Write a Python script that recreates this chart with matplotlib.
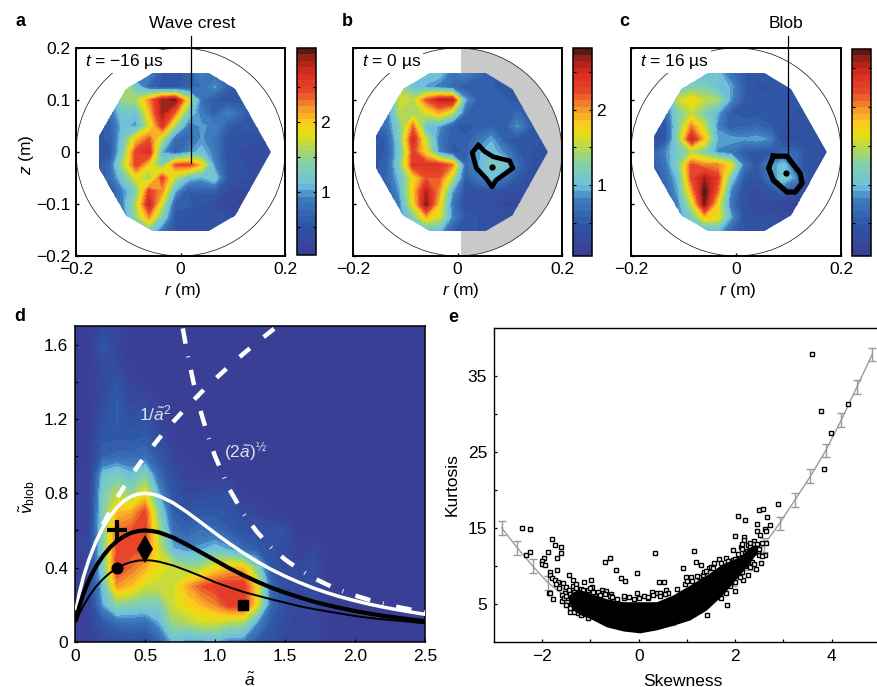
import numpy as np
import matplotlib
matplotlib.use("Agg")
import matplotlib.pyplot as plt
from matplotlib.cm import ScalarMappable
from matplotlib.colors import LinearSegmentedColormap, BoundaryNorm
from matplotlib.patches import Circle, Polygon, Rectangle
from matplotlib.ticker import FixedLocator, NullFormatter

plt.rcParams['font.family'] = ['Liberation Sans', 'DejaVu Sans']
plt.rcParams['mathtext.fontset'] = 'custom'
plt.rcParams['mathtext.rm'] = 'Liberation Sans'
plt.rcParams['mathtext.it'] = 'Liberation Sans:italic'
plt.rcParams['mathtext.bf'] = 'Liberation Sans:bold'
plt.rcParams['font.size'] = 12.5

W, H = 877, 687

# ---------------- data ----------------
r_grid = [-0.16, -0.135, -0.11, -0.085, -0.06, -0.035, -0.01, 0.015, 0.04, 0.065, 0.09, 0.115, 0.14, 0.165, 0.19]
z_grid = [0.15, 0.125, 0.10, 0.075, 0.05, 0.025, 0.0, -0.025, -0.05, -0.075, -0.10, -0.125, -0.15]

field_a = [
    [.5, .5, .6, .7, .9, .55, .5, .6, .9, .75, .55, .5, .5, .5, .5],
    [.6, .8, 1.7, 1.2, .65, .5, .5, .6, .75, .95, .6, .5, .5, .5, .5],
    [.6, .9, 1.5, 1.6, 2.2, 2.9, 3.0, 1.8, .75, .55, .5, .5, .5, .5, .5],
    [.6, .75, 1.2, 1.1, 2.0, 2.9, 2.3, 1.2, .85, .6, .9, .7, .5, .5, .5],
    [.5, .6, 1.1, .95, 1.7, 2.6, 1.5, .8, .95, .9, .6, .5, .5, .45, .45],
    [.5, .6, 1.2, 2.0, 2.4, 1.6, .7, .7, .95, .8, .45, .45, .4, .4, .4],
    [.45, .5, 1.3, 2.5, 2.7, 1.0, .6, .9, 1.1, .85, .4, .35, .3, .3, .3],
    [.5, .7, 1.6, 2.5, 1.9, 1.3, 2.4, 2.5, 2.0, .9, .5, .4, .35, .35, .35],
    [.5, .7, 1.2, 1.8, 1.5, 2.5, 1.6, 1.1, 1.0, 1.2, .5, .4, .35, .35, .35],
    [.4, .5, .9, 1.3, 2.5, 2.2, 1.0, .55, .6, .6, .3, .25, .3, .3, .3],
    [.4, .5, .9, 1.6, 2.8, 1.7, .6, .6, .45, .35, .2, .2, .3, .3, .3],
    [.4, .5, .8, 1.5, 2.2, 1.3, .5, .45, .4, .4, .4, .35, .3, .3, .3],
    [.4, .5, .8, 1.2, 1.3, .8, .45, .45, .4, .4, .4, .35, .3, .3, .3],
]
field_b = [
    [.5, .6, .9, 1.0, 1.0, 1.0, .7, .8, .6, .5, .45, .45, .4, .4, .4],
    [.5, .6, 1.4, 1.0, .9, .75, .6, .5, .5, .5, .45, .45, .4, .4, .4],
    [.5, .6, 1.6, 1.5, 2.2, 2.6, 2.6, .9, .5, .5, .5, .45, .45, .4, .4],
    [.5, .7, 1.5, 1.4, 1.6, 1.9, 1.5, .6, .5, .5, .5, .6, .5, .4, .4],
    [.5, .7, 1.2, 2.1, 1.0, .9, .5, .45, .5, .55, .5, .85, .5, .4, .4],
    [.45, .5, 1.2, 2.5, 1.5, .7, .5, .5, .7, .9, .5, .45, .45, .4, .4],
    [.45, .5, 1.1, 2.3, 1.7, .8, .45, .5, .9, 1.0, .8, .5, .4, .35, .35],
    [.45, .55, 1.2, 2.4, 2.4, 2.4, 2.1, .6, .9, 1.15, 1.1, .6, .4, .35, .35],
    [.45, .6, 1.0, 1.7, 2.2, 2.2, 1.5, .5, .7, 1.0, .7, .45, .35, .35, .35],
    [.4, .5, .9, 1.8, 2.6, 2.0, .9, .4, .4, .4, .35, .3, .3, .3, .3],
    [.4, .5, .8, 1.7, 2.75, 1.8, .7, .35, .35, .35, .2, .2, .3, .3, .3],
    [.4, .5, .8, 1.2, 1.9, 1.6, .8, .45, .4, .4, .35, .35, .3, .3, .3],
    [.4, .5, .8, 1.1, 1.0, 1.0, .5, .45, .4, .4, .35, .35, .3, .3, .3],
]
field_c = [
    [.5, .6, .7, .8, .9, 1.0, .7, .5, .45, .45, .45, .4, .4, .4, .4],
    [.5, .6, 1.1, 1.2, 1.2, 1.0, .9, .5, .35, .4, .45, .45, .4, .4, .4],
    [.5, .7, 1.5, 1.75, 1.5, 1.4, .85, .5, .45, .45, .45, .45, .45, .4, .4],
    [.5, .6, 1.2, 1.5, 1.2, .9, .5, .45, .45, .45, .45, .4, .4, .4, .4],
    [.4, .45, 1.2, 2.0, 1.5, .8, .5, .55, .6, .5, .4, .4, .4, .4, .4],
    [.3, .4, 1.3, 2.5, 1.8, .9, .9, .85, .9, .8, .3, .3, .4, .4, .4],
    [.5, .8, 1.1, 1.4, 1.2, .8, .7, .5, .45, .45, .6, .6, .35, .35, .35],
    [.5, .7, 1.2, 2.2, 2.0, 2.0, 1.7, .7, .45, .8, 1.0, .6, .35, .35, .35],
    [.5, .6, 1.0, 2.2, 2.6, 2.3, 1.1, .5, .4, .7, 1.1, .8, .35, .35, .35],
    [.5, .6, .9, 1.9, 2.8, 2.1, .8, .35, .3, .4, .6, .4, .3, .3, .3],
    [.4, .5, .8, 1.5, 2.7, 1.7, .7, .35, .25, .3, .15, .15, .3, .3, .3],
    [.4, .5, .8, 1.1, 1.8, 1.7, .9, .4, .3, .35, .3, .3, .3, .3, .3],
    [.4, .5, .8, 1.0, .9, 1.0, .6, .4, .35, .35, .35, .3, .3, .3, .3],
]
cbar_a_lim = [0.1, 3.06]
cbar_b_lim = [0.06, 2.82]
cbar_c_lim = [0.08, 2.75]

octagon_r = [-0.053, 0.054, 0.105, 0.173, 0.105, 0.054, -0.053, -0.104, -0.156, -0.156, -0.104]
octagon_z = [0.152, 0.152, 0.121, 0.0, -0.122, -0.152, -0.152, -0.122, -0.031, 0.031, 0.121]

blob_b_r = [0.040, 0.028, 0.036, 0.055, 0.066, 0.074, 0.106, 0.100, 0.068, 0.052, 0.040]
blob_b_z = [0.013, -0.001, -0.031, -0.051, -0.067, -0.054, -0.031, -0.017, -0.009, 0.001, 0.013]
blob_b_point = [0.066, -0.028]
blob_c_r = [0.071, 0.097, 0.122, 0.126, 0.113, 0.097, 0.071, 0.062, 0.071]
blob_c_z = [-0.008, -0.008, -0.041, -0.060, -0.077, -0.077, -0.054, -0.031, -0.008]
blob_c_point = [0.096, -0.041]

a_grid = [0, .1, .2, .3, .4, .5, .6, .7, .8, .9, 1.0, 1.1, 1.2, 1.3, 1.4, 1.5, 1.6, 1.7, 1.8]
v_grid = [1.7, 1.6, 1.5, 1.4, 1.3, 1.2, 1.1, 1.0, .9, .8, .7, .6, .5, .4, .3, .2, .1, 0]
field_d = [
    [0, 0, .05, .05, 0, 0, 0, 0, 0, 0, 0, 0, 0, 0, 0, 0, 0, 0, 0],
    [0, 0, .13, .05, 0, 0, 0, 0, 0, 0, 0, 0, 0, 0, 0, 0, 0, 0, 0],
    [0, 0, .08, .06, 0, 0, 0, 0, 0, 0, 0, 0, 0, 0, 0, 0, 0, 0, 0],
    [0, 0, .06, .12, .03, 0, 0, 0, 0, 0, 0, 0, 0, 0, 0, 0, 0, 0, 0],
    [0, 0, .07, .16, .05, .06, 0, 0, 0, 0, 0, 0, 0, 0, 0, 0, 0, 0, 0],
    [0, 0, .10, .16, .10, .12, .03, 0, 0, 0, 0, 0, 0, 0, 0, 0, 0, 0, 0],
    [0, 0, .14, .15, .14, .16, .08, 0, 0, 0, 0, 0, 0, 0, 0, 0, 0, 0, 0],
    [0, 0, .18, .20, .20, .22, .14, .04, 0, 0, 0, 0, 0, 0, 0, 0, 0, 0, 0],
    [0, .01, .35, .40, .33, .42, .20, .08, .02, 0, 0, 0, 0, 0, 0, 0, 0, 0, 0],
    [0, .02, .40, .52, .45, .60, .30, .12, .06, .07, .08, .10, 0, 0, 0, 0, 0, 0, 0],
    [0, .03, .42, .65, .68, .80, .42, .16, .12, .14, .14, .12, .06, .05, 0, 0, 0, 0, 0],
    [0, .05, .42, .75, .78, .82, .50, .22, .18, .22, .20, .16, .12, .10, .10, .10, 0, 0, 0],
    [0, .06, .42, .80, .80, .78, .55, .32, .28, .30, .35, .30, .20, .16, .10, .07, 0, .05, 0],
    [0, .06, .40, .82, .75, .68, .58, .55, .48, .50, .60, .66, .66, .42, .14, .08, .06, .10, 0],
    [0, .05, .35, .70, .65, .55, .55, .55, .68, .78, .82, .84, .84, .62, .20, .10, .05, .08, .02],
    [0, .04, .30, .45, .42, .40, .40, .55, .62, .66, .72, .82, .84, .60, .20, .10, .06, .08, 0],
    [0, .03, .14, .20, .22, .20, .30, .48, .50, .55, .55, .50, .48, .28, .14, .07, .04, .05, 0],
    [0, .01, .06, .08, .10, .10, .18, .32, .28, .28, .30, .25, .25, .14, .10, .05, .03, .04, 0],
]

curve_a = [.01, .03, .06, .1, .15, .2, .25, .3, .35, .4, .45, .5, .55, .6, .7, .8, .9, 1.0, 1.1, 1.2,
           1.3, 1.4, 1.5, 1.6, 1.7, 1.8, 1.9, 2.0, 2.1, 2.2, 2.3, 2.4, 2.5]
curve_white = [.18, .26, .35, .445, .541, .617, .677, .724, .759, .782, .796, .8, .796, .786, .749, .699,
               .643, .586, .531, .48, .433, .391, .354, .321, .291, .265, .242, .222, .204, .188, .174, .161, .149]
curve_thick = [.125, .19, .26, .334, .406, .463, .508, .543, .569, .587, .597, .6, .597, .59, .562, .524,
               .482, .44, .398, .36, .325, .293, .266, .241, .218, .199, .182, .167, .153, .141, .131, .121, .112]
curve_thin = [.11, .15, .195, .245, .298, .339, .372, .398, .417, .43, .438, .44, .438, .432, .412, .384,
              .354, .322, .295, .27, .25, .23, .212, .193, .178, .165, .152, .14, .13, .122, .115, .108, .10]
sqrt_a = [.2, .3, .4, .5, .6, .7, .8, .9, 1.0, 1.1, 1.2, 1.3, 1.43]
sqrt_v = [.632, .775, .894, 1.0, 1.095, 1.183, 1.265, 1.342, 1.414, 1.483, 1.549, 1.612, 1.69]
inv_a = [.77, .8, .85, .9, .95, 1.0, 1.1, 1.2, 1.3, 1.4, 1.5, 1.6, 1.7, 1.8, 1.9, 2.0, 2.1, 2.2, 2.3, 2.4, 2.5]
inv_v = [1.687, 1.5625, 1.384, 1.235, 1.108, 1.0, .826, .694, .592, .51, .444, .391, .346, .309, .277, .25,
         .227, .207, .189, .174, .16]
marker_plus = [0.3, 0.6]
marker_diamond = [0.5, 0.5]
marker_circle = [0.3, 0.4]
marker_square = [1.2, 0.2]

skew_pts = [-2.42, -2.25, -2.34, -2.25, -1.79, -1.74, -1.62, -1.61, -1.70, -1.88, -1.97, -2.01, -2.00, -1.94,
            -1.69, -1.84, -1.83, -1.79, -1.74, -1.67, -1.86, -1.83, -1.77, -1.43, -1.44, -1.36, -1.14, -.99,
            -.96, -.76, -.67, -.58, -.69, -.59, -.47, -.37, -.29, -.03, .34, .42, .52, .57, .27, .37, -.03,
            -.31, 1.15, 1.19, 1.30, .91, .99, 1.09, 1.42, 1.83, 1.99, 1.99, 1.96, 2.05, 2.2, 2.18, 2.45, 2.5,
            2.58, 2.66, 2.72, 2.88, 2.45, 2.52, 2.61, 2.64, 2.64, 2.61, 2.53, 2.43, 2.26, 2.17, 3.59, 3.77,
            4.33, 3.99, 3.85, 1.56, 1.66, 1.81, 1.45, 1.33, 2.12, 2.19, 2.26, 2.4, 2.37, 2.23, 2.09, 1.95,
            1.88, -1.57, -1.53, -1.39, -1.36, -1.22, -1.08, -.88,
            2.3, 2.45, 2.5, 2.35, 2.2, 2.05, 2.2, 2.1, 2.15, 2.3, 2.38, 2.48, 2.25,
            -1.6, -1.5, -1.45, -1.3, -1.25, -1.4, -1.3, -1.15, -1.1, -1.6, -1.48, -1.72, -1.65,
            -.9, -.75, -.6, -.45, .1, .2, .45, .6, .8, .95, 1.1, 1.25, 1.35, 1.5,
            -1.55, -1.5, -1.42, -1.35, -1.3, -1.2, -1.15, -1.05, -1.0, -.95, -.85, -.8, -.7, -.55, -1.5, -1.42,
            -1.35, -1.25, -1.2, -1.05, -.3, -.2, -.1, 0, .2, .3, .45, .55, 1.0, 1.2, 1.4, 1.55, 1.7, 1.85, 2.0,
            2.05, 2.15, 2.25, 2.3, 2.38, 2.42, 2.46, 2.55, 2.5, 2.55, 2.3, 2.4, 2.1, 2.15, 2.0, 1.9, 1.8, 1.7]
kurt_pts = [15.0, 14.9, 11.5, 11.9, 13.5, 12.7, 12.5, 11.7, 11.1, 11.8, 11.1, 10.7, 10.3, 10.1,
            9.5, 9.2, 8.8, 8.4, 8.2, 7.9, 6.5, 6.4, 5.6, 3.95, 8.8, 8.1, 7.9, 8.2,
            7.2, 6.9, 6.75, 6.3, 10.5, 11.0, 9.5, 8.4, 8.0, 9.1, 11.7, 7.85, 7.9, 6.85, 6.6, 6.5, 6.5,
            5.75, 12.0, 10.5, 10.1, 9.7, 8.5, 8.5, 3.6, 4.9, 6.75, 14.0, 12.05, 16.6, 16.0, 13.85, 15.5, 17.35,
            17.45, 16.5, 15.4, 18.1, 14.6, 14.05, 14.8, 14.6, 13.05, 11.45, 10.35, 9.55, 8.8, 8.15, 37.9, 30.35,
            31.35, 27.55, 22.7, 10.35, 10.9, 11.0, 9.7, 8.8, 12.55, 13.4, 12.75, 13.3, 11.65, 11.2, 11.2, 10.8,
            10.1, 7.7, 6.4, 5.3, 7.3, 6.4, 6.4, 6.4,
            12.2, 12.5, 11.5, 10.5, 10.0, 9.5, 11.8, 10.6, 12.9, 13.0, 12.9, 12.0, 10.9,
            6.2, 7.2, 6.8, 7.6, 6.0, 5.0, 4.5, 4.5, 3.7, 5.4, 5.8, 7.6, 7.1,
            6.0, 6.4, 6.0, 5.7, 6.0, 5.8, 6.5, 6.5, 7.0, 7.6, 8.0, 8.5, 9.2, 9.8,
            5.8, 6.0, 6.3, 6.6, 7.1, 7.0, 6.9, 6.8, 7.1, 6.6, 6.6, 6.2, 6.3, 5.9, 4.9, 4.5,
            3.9, 3.8, 3.5, 3.2, 6.0, 5.9, 5.7, 5.8, 5.9, 6.2, 6.0, 6.3, 8.0, 8.7, 9.3, 9.7, 10.4, 10.6, 10.9,
            11.6, 12.2, 12.0, 12.5, 12.3, 11.8, 12.9, 13.0, 12.2, 11.3, 9.9, 10.3, 8.6, 9.2, 7.9, 7.3, 6.5, 5.8]
dense_skew = [-1.45, -1.36, -1.22, -1.01, -.67, -.32, .02, .37, .71, 1.06, 1.4, 1.74, 2.09, 2.3, 2.45]
dense_low = [5.2, 4.2, 3.6, 3.1, 2.0, 1.45, 1.2, 1.6, 2.2, 2.9, 4.2, 6.2, 8.8, 10.4, 11.8]
dense_high = [6.2, 6.6, 6.9, 6.4, 5.7, 5.3, 5.3, 5.3, 6.2, 7.5, 8.8, 10.3, 11.2, 12.5, 12.8]

mean_skew = [-2.84, -2.52, -2.2, -1.88, -1.56, -1.24, -.92, -.6, -.28, .04, .36, .68, 1.0, 1.32, 1.64, 1.96,
             2.28, 2.6, 2.92, 3.24, 3.56, 3.88, 4.2, 4.52, 4.84]
mean_kurt = [15.0, 12.4, 10.0, 7.8, 6.2, 5.0, 4.0, 3.2, 2.8, 2.6, 2.7, 3.2, 4.1, 5.2, 6.6, 8.2,
             10.4, 12.8, 15.6, 18.7, 21.8, 25.2, 29.2, 33.5, 37.8]
mean_err = [.9] * 25

# ---------------- helpers ----------------
cmap = LinearSegmentedColormap.from_list('plasma_jet', [
    (0.0, '#3a3f96'), (0.137, '#2f55a5'), (0.27, '#3f7fbf'), (0.33, '#6fc0dc'),
    (0.43, '#80d0b0'), (0.525, '#b8d850'), (0.59, '#e6df10'), (0.645, '#fdc820'),
    (0.72, '#f4902a'), (0.80, '#e8452a'), (0.895, '#d82a20'), (0.96, '#9a2218'), (1.0, '#5a1a14')])


def px_axes(x0, y0, x1, y1):
    return fig.add_axes([x0 / W, 1 - y1 / H, (x1 - x0) / W, (y1 - y0) / H])


def px_text(x, y, s, **kw):
    kw.setdefault('ha', 'center')
    kw.setdefault('va', 'center')
    fig.text(x / W, 1 - y / H, s, **kw)


fig = plt.figure(figsize=(W / 100, H / 100), dpi=100, facecolor='white')


def field_panel(box, cbox, field, lim, tlabel, ylabels):
    ax = px_axes(*box)
    ax.set_xlim(-0.2, 0.2)
    ax.set_ylim(-0.2, 0.2)
    levels = np.linspace(lim[0], lim[1], 33)
    cf = ax.contourf(r_grid, z_grid, field, levels=levels, cmap=cmap, extend='both', zorder=2)
    cf.set_edgecolor('face')
    cf.set_linewidth(0.2)
    cf.set_clip_path(Polygon(np.column_stack([octagon_r, octagon_z]), closed=True, transform=ax.transData))
    ax.add_patch(Circle((0, 0), 0.2, fill=False, ec='#222222', lw=0.55, zorder=3))
    ax.text(-0.183, 0.174, tlabel, fontsize=12.5, ha='left', va='center', zorder=4,
            bbox=dict(fc='white', ec='none', pad=1.5))
    ax.set_xticks([-0.2, 0, 0.2])
    ax.set_xticklabels(['\u22120.2', '0', '0.2'])
    ax.set_yticks([-0.2, -0.1, 0, 0.1, 0.2])
    if ylabels:
        ax.set_yticklabels(['\u22120.2', '\u22120.1', '0', '0.1', '0.2'])
    else:
        ax.set_yticklabels([])
    ax.tick_params(direction='in', length=2.2, width=1.0, labelsize=12.5, pad=4)
    for s in ax.spines.values():
        s.set_linewidth(1.4)
        s.set_zorder(6)
    cax = px_axes(*cbox)
    sm = ScalarMappable(norm=BoundaryNorm(levels, cmap.N), cmap=cmap)
    cb = fig.colorbar(sm, cax=cax, ticks=[1, 2], spacing='proportional')
    cb.set_ticklabels(['1', '2'])
    cax.yaxis.set_minor_locator(FixedLocator([0.5, 1.5, 2.5]))
    cax.yaxis.set_minor_formatter(NullFormatter())
    cax.tick_params(axis='y', which='both', direction='in', length=2, width=0.8, left=True, right=True, labelsize=12.5, pad=3)
    cb.outline.set_linewidth(1.1)
    return ax


ax_a = field_panel((76, 48, 285, 256), (297, 48, 316, 255), field_a, cbar_a_lim, '$\\mathit{t}$ = \u221216 \u00b5s', True)
ax_b = field_panel((353, 48, 562, 256), (573, 48, 592, 256), field_b, cbar_b_lim, '$\\mathit{t}$ = 0 \u00b5s', False)
ax_c = field_panel((631, 48, 841, 256), (852, 49, 871, 256), field_c, cbar_c_lim, '$\\mathit{t}$ = 16 \u00b5s', False)

# grey half of the circle in b
rect = Rectangle((0.006, -0.2), 0.194, 0.4, fc='#c9c9c9', ec='none', zorder=1)
ax_b.add_patch(rect)
rect.set_clip_path(Circle((0, 0), 0.2, transform=ax_b.transData))

ax_b.plot(blob_b_r, blob_b_z, color='black', lw=3.4, zorder=5, solid_joinstyle='round')
ax_b.plot(*blob_b_point, 'o', color='black', ms=3.5, zorder=5)
ax_c.plot(blob_c_r, blob_c_z, color='black', lw=3.8, zorder=5)
ax_c.plot(*blob_c_point, 'o', color='black', ms=3.5, zorder=5)

ax_a.plot([0.021, 0.021], [0.223, -0.022], color='black', lw=0.9, clip_on=False, zorder=5)
ax_c.plot([0.099, 0.099], [0.223, -0.008], color='black', lw=0.9, clip_on=False, zorder=5)
px_text(192, 23, 'Wave crest', fontsize=12.5)
px_text(786, 23, 'Blob', fontsize=12.5)

px_text(183, 291, '$\\mathit{r}$ (m)', fontsize=12.5)
px_text(461, 291, '$\\mathit{r}$ (m)', fontsize=12.5)
px_text(738, 291, '$\\mathit{r}$ (m)', fontsize=12.5)
px_text(26, 155, '$\\mathit{z}$ (m)', fontsize=12.5, rotation=90)

for x, y, s in [(20, 22, 'a'), (347, 21, 'b'), (624, 22, 'c'), (20, 317, 'd'), (453, 318, 'e')]:
    px_text(x, y, s, fontsize=13, fontweight='bold')

# ---------------- d ----------------
ax_d = px_axes(75, 326, 425, 642)
ax_d.set_facecolor('#3a3f96')
ax_d.set_xlim(0, 2.5)
ax_d.set_ylim(0, 1.70)
ax_d.contourf(a_grid, v_grid, field_d, levels=np.linspace(0, 1, 33), cmap=cmap, extend='both', zorder=1)
ax_d.plot(sqrt_a, sqrt_v, color='white', lw=3.2, dashes=(3.0, 4.0), dash_capstyle='butt', zorder=3)
ax_d.plot(inv_a, inv_v, color='white', lw=3.2, dashes=(3.5, 2.9, 0.2, 2.9), dash_capstyle='butt', zorder=3)
ax_d.plot(curve_a, curve_white, color='white', lw=2.5, zorder=4)
ax_d.plot(curve_a, curve_thin, color='black', lw=1.4, zorder=4)
ax_d.plot(curve_a, curve_thick, color='black', lw=3.0, zorder=4)
ax_d.plot(*marker_plus, '+', color='black', ms=15, mew=3.0, zorder=5)
ax_d.plot(*marker_diamond, 'd', color='black', ms=14, mew=0, zorder=5)
ax_d.plot(*marker_circle, 'o', color='black', ms=7.6, zorder=5)
ax_d.plot(*marker_square, 's', color='black', ms=7.2, zorder=5)
ax_d.text(0.575, 1.23, '1/$\\mathit{\\tilde{a}}^{2}$', color='#dfe0ee', fontsize=12.5, ha='center', va='center', zorder=5)
ax_d.text(1.22, 1.02, '(2$\\mathit{\\tilde{a}}$)$^{\u00bd}$', color='#dfe0ee', fontsize=12.5, ha='center', va='center', zorder=5)
ax_d.set_xticks([0, 0.5, 1.0, 1.5, 2.0, 2.5])
ax_d.set_xticklabels(['0', '0.5', '1.0', '1.5', '2.0', '2.5'])
ax_d.set_yticks([0, 0.4, 0.8, 1.2, 1.6])
ax_d.set_yticklabels(['0', '0.4', '0.8', '1.2', '1.6'])
ax_d.set_yticks([0.2, 0.6, 1.0, 1.4], minor=True)
ax_d.tick_params(which='both', direction='in', length=2.2, width=0.9, labelsize=12.5, pad=5)
for s in ax_d.spines.values():
    s.set_linewidth(1.1)
px_text(250, 680, '$\\mathit{\\tilde{a}}$', fontsize=12.5)
px_text(27, 497, '$\\mathit{\\tilde{v}}_{\\mathrm{blob}}$', fontsize=12.5, rotation=90)

# ---------------- e ----------------
ax_e = px_axes(494, 328, 877, 642)
ax_e.set_xlim(-3.0, 4.94)
ax_e.set_ylim(0, 41.3)
ax_e.errorbar(mean_skew, mean_kurt, yerr=mean_err, color='#9a9a9a', lw=1.0, elinewidth=1.0,
              capsize=2.8, capthick=1.0, zorder=1)
ax_e.plot(skew_pts, kurt_pts, ls='none', marker='s', ms=3.4, mfc='white', mec='black', mew=1.0, zorder=2)
ax_e.fill_between(dense_skew, dense_low, dense_high, color='black', lw=0, zorder=3)
ax_e.set_xticks([-2, 0, 2, 4])
ax_e.set_xticklabels(['\u22122', '0', '2', '4'])
ax_e.set_xticks([-1, 1, 3], minor=True)
ax_e.set_yticks([5, 15, 25, 35])
ax_e.set_yticks([10, 20, 30], minor=True)
ax_e.tick_params(which='both', direction='in', length=2.5, width=0.9, labelsize=12.5, pad=5)
ax_e.spines['right'].set_visible(False)
for n in ['left', 'top', 'bottom']:
    ax_e.spines[n].set_linewidth(1.0)
px_text(683, 681, 'Skewness', fontsize=12.5)
px_text(452, 485, 'Kurtosis', fontsize=12.5, rotation=90)

fig.savefig('out.png', dpi=100)
